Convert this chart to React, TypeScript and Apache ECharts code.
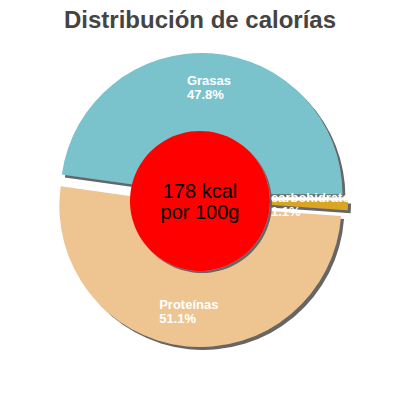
import { useEffect, useRef } from "react";
import * as echarts from "echarts";

const categories = ["Grasas", "carbohidratos", "Proteínas"];
const percents = [47.8, 1.1, 51.1];
const sliceColors = ["#7AC3CC", "#DAA520", "#EEC591"];
const labelWidths = [44, 85, 60];
const centerText = ["178 kcal", "por 100g"];

const FONT = "'Liberation Sans', Arial, sans-serif";
const CENTER = [201, 200];
const START = 172;

function App() {
  const chartRef = useRef<HTMLDivElement>(null);

  useEffect(() => {
    const chart = echarts.init(chartRef.current, null, { renderer: "svg" });
    const slices = categories.map((name, i) => ({
      name,
      value: percents[i],
      selected: true,
      itemStyle: { color: sliceColors[i] },
    }));
    chart.setOption({
      animation: false,
      title: {
        text: "Distribución de calorías",
        left: "center",
        top: 2,
        textStyle: { fontFamily: FONT, fontSize: 24, fontWeight: "bold", color: "#444" },
      },
      series: [
        {
          type: "pie",
          z: 1,
          center: CENTER,
          radius: [0, 141],
          startAngle: START,
          clockwise: true,
          selectedMode: "multiple",
          selectedOffset: 6,
          silent: true,
          label: { show: false },
          labelLine: { show: false },
          itemStyle: {
            shadowColor: "#666",
            shadowBlur: 0,
            shadowOffsetX: 3,
            shadowOffsetY: 3,
          },
          data: slices,
        },
        {
          type: "pie",
          z: 3,
          center: [200, 201],
          radius: [0, 70],
          silent: true,
          labelLine: { show: false },
          itemStyle: {
            color: "#FF0000",
            shadowColor: "#666",
            shadowBlur: 0,
            shadowOffsetX: 2,
            shadowOffsetY: 2,
          },
          label: {
            show: true,
            position: "center",
            formatter: centerText.join("\n"),
            color: "#000",
            fontFamily: FONT,
            fontSize: 20,
            lineHeight: 21,
          },
          data: [{ name: "kcal", value: 1 }],
        },
        {
          type: "pie",
          z: 4,
          center: CENTER,
          radius: [66, 141],
          startAngle: START,
          clockwise: true,
          selectedMode: "multiple",
          selectedOffset: 6,
          silent: true,
          itemStyle: { color: "transparent" },
          labelLine: { show: false },
          data: categories.map((name, i) => ({
            name,
            value: percents[i],
            selected: true,
            label: {
              show: true,
              position: "inside",
              formatter: (p: any) => `{a|${p.name}}\n{a|${p.value.toFixed(1)}%}`,
              rich: {
                a: {
                  width: labelWidths[i],
                  align: "left",
                  color: "#fff",
                  fontFamily: FONT,
                  fontSize: 13,
                  fontWeight: "bold",
                  lineHeight: 14,
                },
              },
            },
          })),
        },
      ],
    });
    return () => chart.dispose();
  }, []);

  return (
    <div
      ref={chartRef}
      style={{ position: "fixed", left: 0, top: 0, width: 400, height: 400, background: "#fff" }}
    />
  );
}

export default App;
